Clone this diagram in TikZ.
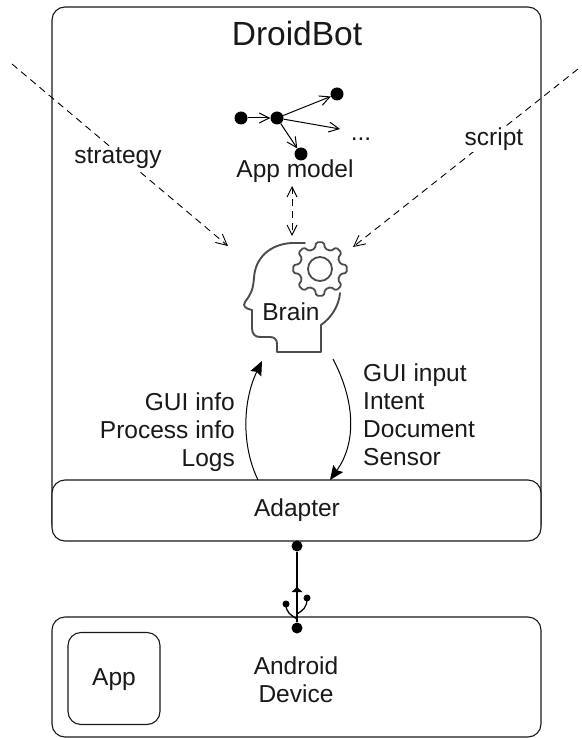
\documentclass[tikz,border=0pt]{standalone}
\usepackage{fontspec}
\setmainfont{Liberation Sans}
\usetikzlibrary{arrows.meta}
\tikzset{
  box/.style={draw=black!90,line width=1.1pt,rounded corners=13pt,fill=white},
  lab/.style={inner sep=0pt,font=\fontsize{24.5}{28}\selectfont,text=black!90},
  dot/.style={circle,fill=black,inner sep=0pt,minimum size=13pt},
  smalldot/.style={circle,fill=black,inner sep=0pt,minimum size=11pt},
  flow/.style={line width=1pt,-{Stealth[length=14pt,width=12pt,inset=2pt]}},
  openarrow/.style={line width=1pt,-{Straight Barb[length=10pt,width=10pt]}},
  dashline/.style={line width=0.9pt,dash pattern=on 7pt off 5pt,-{Straight Barb[length=11pt,width=11pt]}},
  headline/.style={draw=black!70,line width=1.9pt,line join=round,line cap=round},
}
\begin{document}
\begin{tikzpicture}[x=1pt,y=-1pt]
\useasboundingbox (0,0) rectangle (581,738);
\coordinate (s1) at (12,64);
\coordinate (s2) at (228,246);
\coordinate (t1) at (578,69);
\coordinate (t2) at (353,247);
\node[box,minimum width=489pt,minimum height=530pt,inner sep=0pt] (main) at (296.5,272) {};
\node[box,minimum width=489pt,minimum height=61pt,inner sep=0pt] (adapter) at (296.5,510.5) {};
\node[box,minimum width=489pt,minimum height=120pt,inner sep=0pt] (device) at (296.5,677) {};
\node[box,minimum width=92pt,minimum height=92pt,inner sep=0pt] (app) at (114,678.5) {};
\node[lab] (applab) at (114,680) {App};
\node[lab,align=center] (devlab) at (296,680) {Android\\Device};
\node[lab] (adlab) at (297,510) {Adapter};
\node[lab,font=\fontsize{33.5}{38}\selectfont] (title) at (297,34) {DroidBot};
% model graph
\node[dot] (a) at (241,118) {};
\node[dot] (b) at (277,118) {};
\node[dot] (c) at (337,94) {};
\node[dot] (d) at (301,154) {};
\coordinate (e) at (340,129);
\draw[openarrow] (a) -- (b);
\draw[openarrow] (b) -- (c);
\draw[openarrow] (b) -- (e);
\draw[openarrow] (b) -- (d);
\node[lab] (dots) at (361,139) {...};
\node[lab] (model) at (295,171) {App model};
% head
\draw[headline] (305,243) -- (292,243) .. controls (270,244) and (255,258) .. (254,278) .. controls (253,290) and (251,294) .. (245,302) .. controls (243,306) and (244,308) .. (252,310) -- (252,328) .. controls (252,334) and (255,337) .. (260,337) -- (270,337) .. controls (275,337) and (277,340) .. (277,344) -- (277,352) -- (321,352) -- (321,325) .. controls (331,318) and (339,306) .. (340,293);
\draw[headline,line width=1.8pt,rounded corners=1.5pt,shift={(320,269)}] (8:27)
  \foreach \k in {0,45,...,315} {
    -- ({\k+14}:21) -- ({\k+31}:21) -- ({\k+37}:27) -- ({\k+53}:27)
  } -- cycle;
\node[circle,headline,line width=1.8pt,inner sep=0pt,minimum size=24pt] (gear) at (320,269) {};
\node[lab] (brain) at (291,312) {Brain};
% dashed
\draw[dashline] (s1) -- (s2);
\draw[dashline] (t1) -- (t2);
\node[lab,fill=white,inner sep=2pt] (strategy) at (118,158) {strategy};
\node[lab,fill=white,inner sep=2pt] (script) at (494,139) {script};
\coordinate (m1) at (292,186);
\coordinate (m2) at (292,236);
\draw[line width=0.9pt,dash pattern=on 7pt off 5pt,{Straight Barb[length=10pt,width=10pt]}-{Straight Barb[length=10pt,width=10pt]}] (m1) -- (m2);
% flows
\coordinate (u1) at (258,480);
\coordinate (u2) at (262,361);
\coordinate (v1) at (333,359);
\coordinate (v2) at (330,480);
\draw[flow] (u1) .. controls (241,445) and (243,400) .. (u2);
\draw[flow] (v1) .. controls (357,405) and (355,445) .. (v2);
\node[lab,align=right,anchor=east] (left) at (235,432) {GUI info\\Process info\\Logs};
\node[lab,align=left,anchor=west] (right) at (363,415) {GUI input\\Intent\\Document\\Sensor};
% usb
\node[smalldot] (p) at (297,546) {};
\node[smalldot] (q) at (297,628) {};
\draw[line width=1.2pt] (p) -- (q);
\fill (297,587) -- (302.5,592) -- (291.5,592) -- cycle;
\draw[line width=1.3pt] (297,619) .. controls (291,615) and (286,613) .. (286,604);
\draw[line width=1.3pt] (297,614) .. controls (303,610) and (307,608) .. (307,598);
\fill (286,604) circle (3.5pt);
\fill (307,598) circle (3.5pt);
\end{tikzpicture}
\end{document}
